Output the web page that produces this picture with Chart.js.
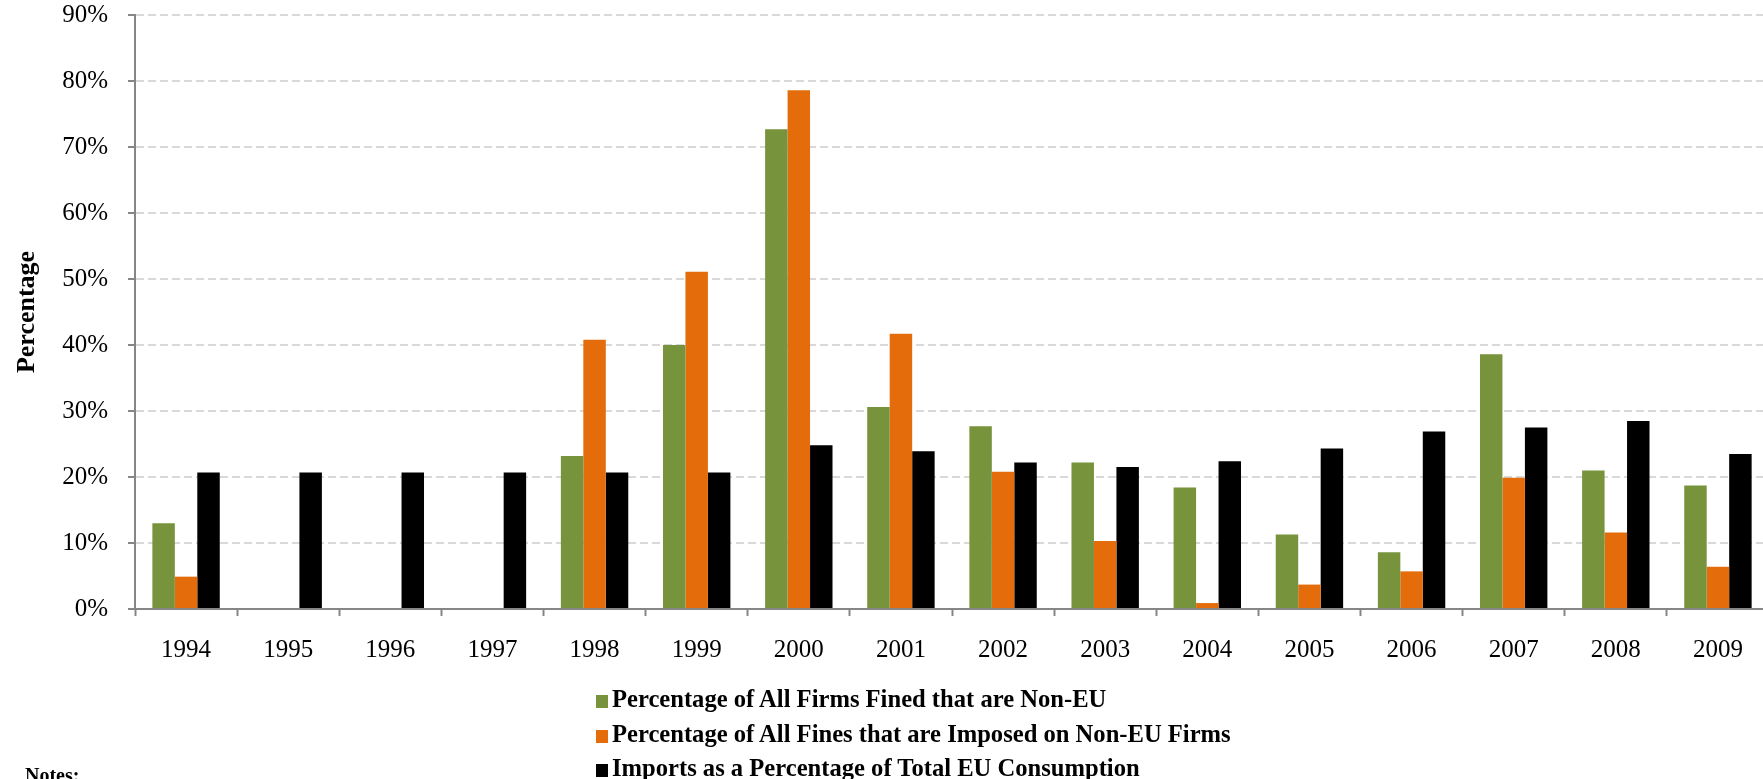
<!DOCTYPE html>
<html>
<head>
<meta charset="utf-8">
<title>Non-EU firms fined vs imports</title>
<script src="https://cdn.jsdelivr.net/npm/chart.js@4"></script>
<style>
    html, body { margin: 0; padding: 0; background: #ffffff; overflow: hidden; }
    #wrap { position: absolute; left: 0; top: 0; width: 1772px; height: 779px; }
    #legend { position: absolute; left: 596px; top: 682px; font-family: "Liberation Serif", "Times New Roman", serif;
              font-weight: bold; font-size: 24.6px; color: #000000; }
    .item { height: 34.5px; line-height: 34px; white-space: nowrap; }
    .box { display: inline-block; width: 12px; height: 13px; margin-right: 4px; vertical-align: -1px; }
    #notes { position: absolute; left: 25px; top: 764px; font-family: "Liberation Serif", "Times New Roman", serif;
             font-weight: bold; font-size: 20px; }
</style>
</head>
<body>
<div id="wrap"><canvas id="finesChart"></canvas></div>
<div id="legend"></div>
<div id="notes">Notes:</div>
<script>
// x-axis categories (years)
const years = ['1994', '1995', '1996', '1997', '1998', '1999', '2000', '2001',
               '2002', '2003', '2004', '2005', '2006', '2007', '2008', '2009'];

// series values in percent (null = no bar)
const firmsNonEU = [13.0, null, null, null, 23.2, 40.0, 72.7, 30.6,
                    27.7, 22.2, 18.4, 11.3, 8.6, 38.6, 21.0, 18.7];
const finesNonEU = [4.9, null, null, null, 40.8, 51.1, 78.6, 41.7,
                    20.8, 10.3, 0.9, 3.7, 5.7, 19.9, 11.6, 6.4];
const importsShare = [20.7, 20.7, 20.7, 20.7, 20.7, 20.7, 24.8, 23.9,
                      22.2, 21.5, 22.4, 24.3, 26.9, 27.5, 28.5, 23.5];

// series names
const seriesNames = ['Percentage of All Firms Fined that are Non-EU',
                     'Percentage of All Fines that are Imposed on Non-EU Firms',
                     'Imports as a Percentage of Total EU Consumption'];

const serif = '"Liberation Serif", "Times New Roman", serif';
const axisGrey = '#868686';

// keep the axes from pushing the plot area around
function fixX(s) {
    s.height = 60;
    s.paddingLeft = 0;
    s.paddingRight = 0;
}
function fixY(s) {
    s.width = 135;
    s.paddingTop = 0;
    s.paddingBottom = 0;
}

function createChart() {
    const ctx = document.getElementById('finesChart');
    const chart = new Chart(ctx, {
        type: 'bar',
        data: {
            labels: years,
            datasets: [
                { label: seriesNames[0], data: firmsNonEU, backgroundColor: '#77933C' },
                { label: seriesNames[1], data: finesNonEU, backgroundColor: '#E46C0A' },
                { label: seriesNames[2], data: importsShare, backgroundColor: '#000000' }
            ]
        },
        options: {
            responsive: true,
            maintainAspectRatio: false,
            animation: false,
            datasets: {
                bar: { categoryPercentage: 0.66, barPercentage: 1.0, borderWidth: 0 }
            },
            layout: { padding: { top: 15, left: 0, right: 3, bottom: 110 } },
            scales: {
                x: {
                    afterFit: fixX,
                    grid: { display: true, drawOnChartArea: false, tickLength: 7,
                            tickColor: axisGrey, tickWidth: 2 },
                    border: { color: axisGrey, width: 2 },
                    ticks: { color: '#000000', padding: 19, font: { family: serif, size: 25 } }
                },
                y: {
                    min: 0,
                    max: 90,
                    afterFit: fixY,
                    ticks: {
                        stepSize: 10,
                        padding: 20,
                        color: '#000000',
                        font: { family: serif, size: 25 },
                        callback: v => v + '%'
                    },
                    grid: { color: '#d9d9d9', lineWidth: 2, tickLength: 7,
                            tickColor: axisGrey, tickWidth: 2 },
                    border: { color: axisGrey, width: 2, dash: [8, 4] },
                    title: {
                        display: true,
                        text: 'Percentage',
                        color: '#000000',
                        padding: { top: 12, bottom: 0 },
                        font: { family: serif, size: 26, weight: 'bold' }
                    }
                }
            },
            plugins: {
                legend: { display: false },   // drawn below as a stacked html list
                tooltip: { enabled: false }
            }
        }
    });

    // legend built from the chart's own datasets, one per row
    const legend = document.getElementById('legend');
    chart.data.datasets.forEach(ds => {
        const row = document.createElement('div');
        row.className = 'item';
        const box = document.createElement('span');
        box.className = 'box';
        box.style.background = ds.backgroundColor;
        row.appendChild(box);
        row.appendChild(document.createTextNode(ds.label));
        legend.appendChild(row);
    });
}

createChart();
</script>
</body>
</html>
